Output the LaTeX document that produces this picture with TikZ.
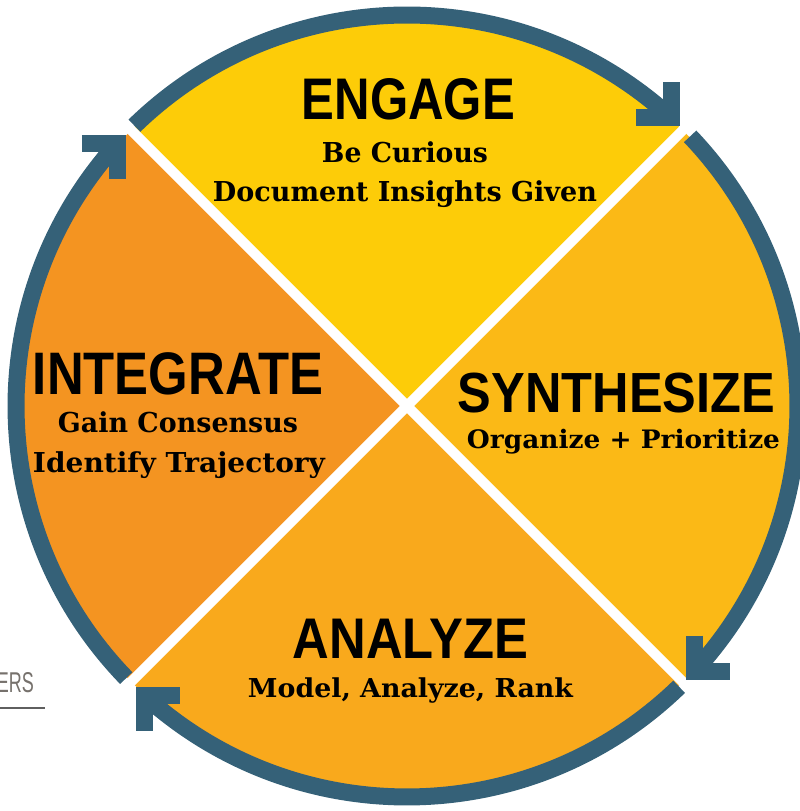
\documentclass[tikz,border=0pt]{standalone}
\usepackage{fontspec}
\usepackage{graphicx}
\newfontfamily\headfont{Liberation Sans}
\newfontfamily\subfont{DejaVu Serif}
\newfontfamily\ersfont{Liberation Sans}
\definecolor{cEng}{RGB}{253,204,8}
\definecolor{cSyn}{RGB}{251,185,22}
\definecolor{cAna}{RGB}{249,169,28}
\definecolor{cInt}{RGB}{244,148,33}
\definecolor{cRing}{RGB}{53,97,120}
\definecolor{cErs}{RGB}{118,113,108}
\definecolor{cUl}{RGB}{95,95,95}
\newcommand\hdtxt[3]{\resizebox{#1}{\height}{\fontsize{#2}{#2}\selectfont\headfont\bfseries #3}}
\newcommand\sbtxt[3]{\resizebox{#1}{\height}{\fontsize{#2}{#2}\selectfont\subfont\bfseries #3}}
\tikzset{
  txt/.style={anchor=base, inner sep=0pt, text=black},
  ring/.style={draw=cRing, line width=17pt, line cap=butt},
  chev/.style={draw=cRing, line width=17pt, line cap=butt, line join=miter},
  divider/.style={draw=white, line width=10pt}
}
\begin{document}
\begin{tikzpicture}[x=1pt,y=1pt]
\useasboundingbox (-407,-405) rectangle (393,406);
\def\R{390}
\def\Q{391}
% quadrants
\fill[cEng] (0,0) -- (45:\R) arc[start angle=45,end angle=135,radius=\R] -- cycle;
\fill[cInt] (0,0) -- (135:\R) arc[start angle=135,end angle=225,radius=\R] -- cycle;
\fill[cAna] (0,0) -- (225:\R) arc[start angle=225,end angle=315,radius=\R] -- cycle;
\fill[cSyn] (0,0) -- (-45:\R) arc[start angle=-45,end angle=45,radius=\R] -- cycle;
% white dividers
\draw[divider] (135:392) -- (-45:392);
\draw[divider] (45:392) -- (225:392);
% ring arcs with chevron heads (clockwise)
\draw[ring] (134.2:\Q) arc[start angle=134.2,end angle=47.5,radius=\Q];
\draw[chev] (47.5:\Q) ++(0,35.5) -- ++(0,-35.5) -- ++(-35.5,0);
\draw[ring] (43.6:\Q) arc[start angle=43.6,end angle=-42.7,radius=\Q];
\draw[chev] (-42.7:\Q) ++(0,35.5) -- ++(0,-35.5) -- ++(35.5,0);
\draw[ring] (-45.9:\Q) arc[start angle=-45.9,end angle=-132.2,radius=\Q];
\draw[chev] (-132.2:\Q) ++(35.5,0) -- ++(-35.5,0) -- ++(0,-35.5);
\draw[ring] (224.1:\Q) arc[start angle=224.1,end angle=137.8,radius=\Q];
\draw[chev] (137.8:\Q) ++(-35.5,0) -- ++(35.5,0) -- ++(0,-35.5);
% texts
\node[txt] (engage) at (1.5,286) {\hdtxt{213pt}{58.7pt}{ENGAGE}};
\node[txt] (eng1) at (-2,243) {\sbtxt{166pt}{27.4pt}{Be Curious}};
\node[txt] (eng2) at (-2,204) {\sbtxt{384pt}{27.4pt}{Document Insights Given}};
\node[txt] (synth) at (209.5,-7) {\hdtxt{317pt}{56.6pt}{SYNTHESIZE}};
\node[txt] (syn1) at (216.5,-42) {\sbtxt{313pt}{25.4pt}{Organize + Prioritize}};
\node[txt] (integ) at (-229,11) {\hdtxt{290pt}{60pt}{INTEGRATE}};
\node[txt] (int1) at (-229,-27) {\sbtxt{240pt}{27.4pt}{Gain Consensus}};
\node[txt] (int2) at (-228,-66) {\sbtxt{292pt}{27.4pt}{Identify Trajectory}};
\node[txt] (analyze) at (3.5,-252) {\hdtxt{235pt}{57.3pt}{ANALYZE}};
\node[txt] (ana1) at (3.5,-291) {\sbtxt{325pt}{26pt}{Model, Analyze, Rank}};
% cut-off label at left edge
\node[anchor=base east, inner sep=0pt, text=cErs] (ers) at (-373,-286) {\resizebox{37pt}{20pt}{\ersfont ERS}};
\coordinate (ulA) at (-410,-302);
\coordinate (ulB) at (-362,-302);
\draw[cUl, line width=1.5pt] (ulA) -- (ulB);
\end{tikzpicture}
\end{document}
